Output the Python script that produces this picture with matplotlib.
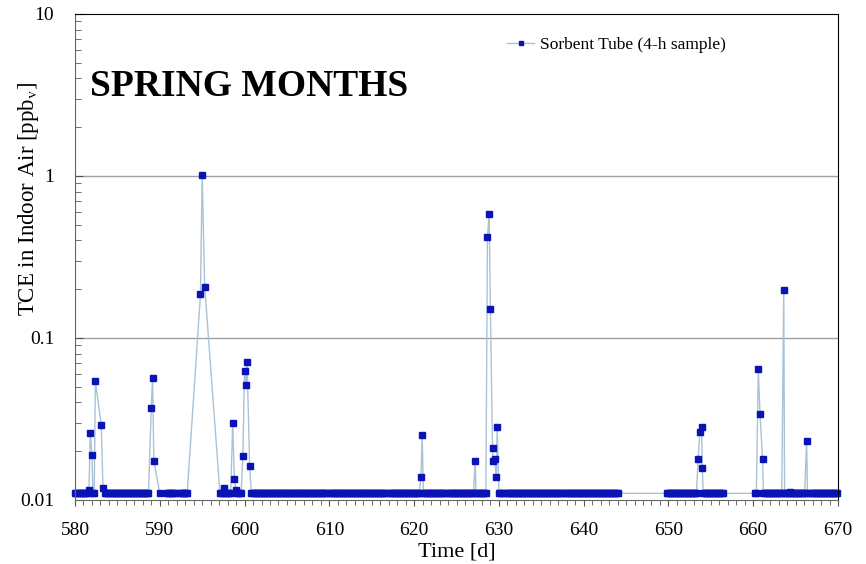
import numpy as np
import matplotlib
matplotlib.use("Agg")
import matplotlib.pyplot as plt
from matplotlib.ticker import FixedLocator, MultipleLocator, FuncFormatter, NullFormatter

plt.rcParams["font.family"] = ["Liberation Serif", "DejaVu Serif"]
plt.rcParams["mathtext.fontset"] = "stix"

# detection-limit level and 4-h sampling step (days)
baseline_level = 0.011
sample_step = 4.0 / 24.0

# runs of samples at the baseline level (start day, end day)
baseline_runs = [
    (580.0, 581.5), (582.1, 582.3), (583.5, 588.8), (590.0, 590.0),
    (590.8, 591.8), (592.4, 593.3), (597.1, 597.5), (597.7, 598.4),
    (599.1, 599.7), (600.8, 609.7), (610.0, 616.75), (617.1, 620.6),
    (621.1, 623.6), (624.0, 627.1), (627.3, 628.5), (630.0, 630.6),
    (630.9, 637.6), (637.9, 644.15), (649.8, 653.4), (654.1, 656.5),
    (660.2, 660.5), (661.2, 663.5), (663.7, 664.2), (664.4, 666.2),
    (666.4, 666.7), (666.9, 670.0),
]

# samples above the baseline
spike_days = [
    581.65, 581.8, 582.0, 582.4, 583.1, 583.3,
    589.0, 589.15, 589.3,
    594.8, 595.0, 595.3, 597.6,
    598.6, 598.8, 599.0,
    599.8, 600.0, 600.15, 600.3, 600.6,
    620.8, 620.95, 627.2,
    628.65, 628.85, 629.0, 629.25, 629.3, 629.5, 629.7, 629.8,
    653.5, 653.7, 653.9, 654.0,
    660.6, 660.8, 661.1, 663.6, 664.3, 666.3,
]
spike_ppb = [
    0.0115, 0.026, 0.019, 0.054, 0.029, 0.0119,
    0.037, 0.057, 0.0175,
    0.186, 1.02, 0.207, 0.0118,
    0.030, 0.0134, 0.0115,
    0.0187, 0.063, 0.051, 0.071, 0.0162,
    0.0138, 0.0252, 0.0175,
    0.418, 0.582, 0.150, 0.0208, 0.0175, 0.018, 0.0138, 0.0283,
    0.018, 0.0262, 0.0283, 0.0157,
    0.064, 0.034, 0.0179, 0.198, 0.0112, 0.0232,
]

# days where the record has a hole (line is broken)
gap_days = [590.4, 592.1, 609.85, 616.9, 623.8, 630.75, 637.75, 666.8]

days, ppb = [], []
for start, end in baseline_runs:
    t = np.arange(start, end + 1e-6, sample_step)
    days.extend(t)
    ppb.extend([baseline_level] * len(t))
days.extend(spike_days)
ppb.extend(spike_ppb)
days.extend(gap_days)
ppb.extend([np.nan] * len(gap_days))
order = np.argsort(days)
days = np.array(days)[order]
ppb = np.array(ppb)[order]

fig = plt.figure(figsize=(8.66, 5.64), dpi=100)
ax = fig.add_axes([75 / 866, 1 - 500 / 564, 763 / 866, 486 / 564])

ax.plot(days, ppb, color="#a9c2d6", lw=1.0, marker="s", markersize=4.4,
        markerfacecolor="#0a14b4", markeredgecolor="#0a14b4",
        label="Sorbent Tube (4-h sample)", clip_on=False)

ax.set_yscale("log")
ax.set_ylim(0.01, 10)
ax.set_xlim(580, 670)
ax.yaxis.set_major_locator(FixedLocator([0.01, 0.1, 1, 10]))
ax.yaxis.set_major_formatter(FuncFormatter(lambda v, p: f"{v:g}"))
ax.yaxis.set_minor_formatter(NullFormatter())
ax.xaxis.set_major_locator(MultipleLocator(10))
ax.xaxis.set_minor_locator(MultipleLocator(1))

for y in [0.1, 1]:
    ax.axhline(y, color="#a0a0a0", lw=1.0, zorder=0)

ax.tick_params(axis="y", which="both", direction="in", right=False, labelsize=14,
               color="#555555", pad=15)
ax.tick_params(axis="y", which="major", length=6)
ax.tick_params(axis="y", which="minor", length=4)
ax.tick_params(axis="x", which="both", direction="out", top=False, labelsize=14,
               color="#555555", pad=11)
ax.tick_params(axis="x", which="major", length=4.5)
ax.tick_params(axis="x", which="minor", length=3.5)

for side in ["left", "bottom"]:
    ax.spines[side].set_color("#666666")
for side in ["top", "right"]:
    ax.spines[side].set_color("black")

ax.set_xlabel("Time [d]", fontsize=16)
ax.set_ylabel("TCE in Indoor Air [ppb$_\\mathrm{v}$]", fontsize=16.5)
ax.xaxis.set_label_coords(0.5, -0.088)
ax.yaxis.set_label_coords(-0.045, 0.62)

ax.text(0.02, 0.85, "SPRING MONTHS", transform=ax.transAxes, fontsize=27,
        fontweight="bold", va="center", ha="left")

ax.legend(loc="center right", bbox_to_anchor=(0.873, 0.936), frameon=False,
          fontsize=12.5, handlelength=1.6, handletextpad=0.3, markerscale=0.7)

fig.savefig("out.png", dpi=100)
